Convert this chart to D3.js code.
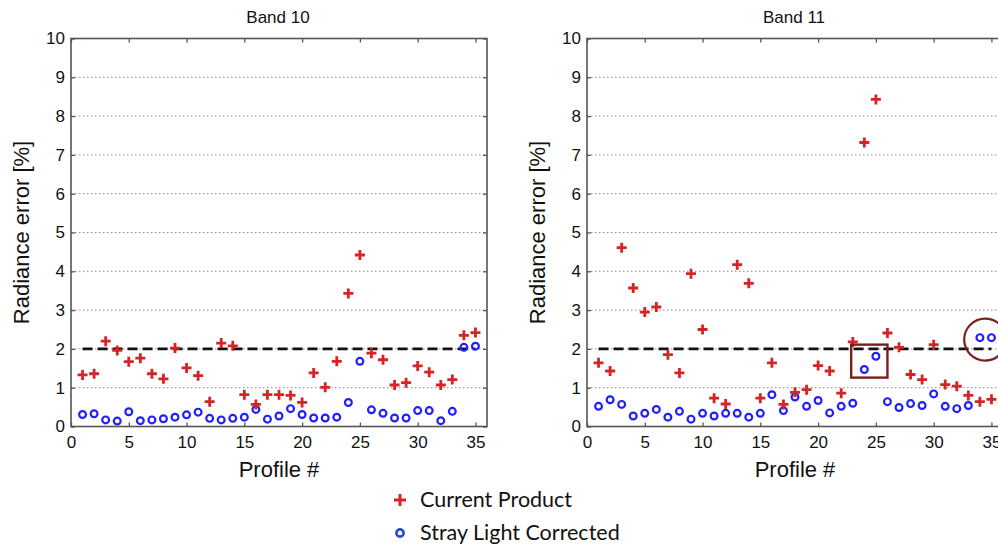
<!DOCTYPE html>
<html lang="en">
<head>
<meta charset="utf-8">
<title>Radiance error</title>
<script type="text/javascript" src="https://d3js.org/d3.v7.min.js"></script>
<style>
body { margin: 0; background: #fff; }
svg { display: block; }
.tick text { font-family: "Liberation Sans", Arial, sans-serif; font-size: 17px; fill: #111; }
.grid { stroke: #888; stroke-width: 1; stroke-dasharray: 1.5 2.5; }
.frame { fill: none; stroke: #555; stroke-width: 1.6; }
.title { font-family: "Liberation Sans", Arial, sans-serif; font-size: 17px; fill: #111; }
.alabel { font-family: "Liberation Sans", Arial, sans-serif; font-size: 22px; fill: #111; }
.legend { font-family: Lato, "Open Sans", sans-serif; font-size: 21.5px; fill: #111; }
</style>
</head>
<body>
<div id="container"></div>
<script type="text/javascript">
var profiles = [1,2,3,4,5,6,7,8,9,10,11,12,13,14,15,16,17,18,19,20,21,22,23,24,25,26,27,28,29,30,31,32,33,34,35];

var band10Current = [1.33,1.36,2.20,1.96,1.67,1.76,1.36,1.23,2.02,1.51,1.31,0.64,2.15,2.08,0.82,0.57,0.82,0.82,
  0.80,0.62,1.38,1.01,1.68,3.43,4.42,1.89,1.72,1.07,1.13,1.56,1.40,1.07,1.21,2.35,2.42];
var band10Corrected = [0.31,0.33,0.17,0.14,0.38,0.15,0.17,0.20,0.24,0.30,0.37,0.21,0.17,0.21,0.24,0.44,0.19,0.27,
  0.46,0.31,0.22,0.22,0.24,0.62,1.68,0.43,0.34,0.22,0.22,0.41,0.41,0.15,0.39,2.04,2.07];

var band11Current = [1.64,1.43,4.61,3.57,2.95,3.08,1.85,1.38,3.94,2.50,0.73,0.58,4.17,3.69,0.73,1.64,0.57,0.88,
  0.95,1.57,1.43,0.86,2.18,7.32,8.43,2.41,2.04,1.34,1.21,2.11,1.08,1.04,0.80,0.64,0.70];
var band11Corrected = [0.52,0.69,0.57,0.27,0.34,0.44,0.24,0.39,0.19,0.34,0.27,0.34,0.34,0.24,0.34,0.82,0.41,0.76,
  0.52,0.67,0.35,0.52,0.60,1.47,1.81,0.64,0.49,0.59,0.54,0.84,0.52,0.46,0.54,2.29,2.29];

var xTicks = [0,5,10,15,20,25,30,35];
var yTicks = [0,1,2,3,4,5,6,7,8,9,10];
var threshold = 2;
var legendLabels = ["Current Product", "Stray Light Corrected"];

// annotations on band 11 (data units)
var boxNote = {x0: 22.86, x1: 26.0, y0: 1.26, y1: 2.11};
var ringNote = {x: 34.46, y: 2.24, r: 21};

var w = 998, h = 544;
var red = "#d62424", blue = "#1f1fff", noteColor = "#7a1e1e";

var svg = d3.select("div#container").append("svg")
  .attr("width", w).attr("height", h)
  .attr("viewBox", "0 0 " + w + " " + h);

var panels = [
  {title: "Band 10", left: 71, cur: band10Current, cor: band10Corrected},
  {title: "Band 11", left: 587, cur: band11Current, cor: band11Corrected}
];
var plotTop = 38.5, plotBottom = 426.5, pw = 416;

panels.forEach(function(p, i) {
  var x = d3.scaleLinear().domain([0, 36]).range([p.left, p.left + pw]);
  var y = d3.scaleLinear().domain([0, 10]).range([plotBottom, plotTop]);
  var g = svg.append("g");

  // dotted grid
  g.selectAll("line.grid").data(yTicks.filter(function(t){ return t > 0 && t < 10; }))
    .enter().append("line").attr("class", "grid")
    .attr("x1", x(0)).attr("x2", x(36))
    .attr("y1", function(d){ return y(d); }).attr("y2", function(d){ return y(d); });

  // axes
  var ax = g.append("g").attr("transform", "translate(0," + plotBottom + ")")
    .call(d3.axisBottom(x).tickValues(xTicks).tickSizeInner(-4).tickSizeOuter(0).tickPadding(9));
  var axT = g.append("g").attr("transform", "translate(0," + plotTop + ")")
    .call(d3.axisTop(x).tickValues(xTicks).tickSizeInner(-4).tickSizeOuter(0).tickFormat(""));
  var ay = g.append("g").attr("transform", "translate(" + x(0) + ",0)")
    .call(d3.axisLeft(y).tickValues(yTicks).tickSizeInner(-4).tickSizeOuter(0).tickPadding(6));
  var ayR = g.append("g").attr("transform", "translate(" + x(36) + ",0)")
    .call(d3.axisRight(y).tickValues(yTicks).tickSizeInner(-4).tickSizeOuter(0).tickFormat(""));
  [ax, axT, ay, ayR].forEach(function(a) {
    a.select(".domain").remove();
    a.selectAll(".tick line").attr("stroke", "#555").attr("stroke-width", 1.3);
  });

  g.append("rect").attr("class", "frame")
    .attr("x", x(0)).attr("y", y(10))
    .attr("width", x(36) - x(0)).attr("height", y(0) - y(10));

  // threshold
  g.append("line")
    .attr("x1", x(1)).attr("x2", x(35))
    .attr("y1", y(threshold)).attr("y2", y(threshold))
    .attr("stroke", "#111").attr("stroke-width", 2.6)
    .attr("stroke-dasharray", "10 5");

  // corrected (circles)
  g.selectAll("circle.cor").data(p.cor).enter().append("circle")
    .attr("cx", function(d, j){ return x(profiles[j]); })
    .attr("cy", function(d){ return y(d); })
    .attr("r", 3.4)
    .attr("fill", "none").attr("stroke", blue).attr("stroke-width", 2.2);

  // current (crosses)
  g.selectAll("path.cur").data(p.cur).enter().append("path")
    .attr("transform", function(d, j){ return "translate(" + x(profiles[j]) + "," + y(d) + ")"; })
    .attr("d", "M-5,0H5M0,-5V5")
    .attr("stroke", red).attr("stroke-width", 2.8);

  // titles and labels
  g.append("text").attr("class", "title")
    .attr("x", (x(0) + x(36)) / 2 - 1).attr("y", 23)
    .attr("text-anchor", "middle").text(p.title);
  g.append("text").attr("class", "alabel")
    .attr("x", (x(0) + x(36)) / 2).attr("y", 477)
    .attr("text-anchor", "middle").text("Profile #");
  g.append("text").attr("class", "alabel")
    .attr("transform", "translate(" + (x(0) - 42) + "," + ((plotTop + plotBottom) / 2) + ") rotate(-90)")
    .attr("text-anchor", "middle").text("Radiance error [%]");

  if (i === 1) {
    g.append("rect")
      .attr("x", x(boxNote.x0)).attr("y", y(boxNote.y1))
      .attr("width", x(boxNote.x1) - x(boxNote.x0))
      .attr("height", y(boxNote.y0) - y(boxNote.y1))
      .attr("fill", "none").attr("stroke", noteColor).attr("stroke-width", 2.4);
    g.append("circle")
      .attr("cx", x(ringNote.x)).attr("cy", y(ringNote.y)).attr("r", ringNote.r)
      .attr("fill", "none").attr("stroke", noteColor).attr("stroke-width", 2.2);
  }
});

// legend
var lg = svg.append("g").attr("transform", "translate(400,0)");
lg.append("path").attr("d", "M-6,500H6M0,494V506").attr("stroke", red).attr("stroke-width", 3);
lg.append("circle").attr("cx", 0).attr("cy", 533).attr("r", 3.6)
  .attr("fill", "none").attr("stroke", "#2a4fc4").attr("stroke-width", 2.6);
lg.selectAll("text").data(legendLabels).enter().append("text")
  .attr("class", "legend")
  .attr("x", 20).attr("y", function(d, k){ return 507 + k * 33; })
  .text(function(d){ return d; });
</script>
</body>
</html>
